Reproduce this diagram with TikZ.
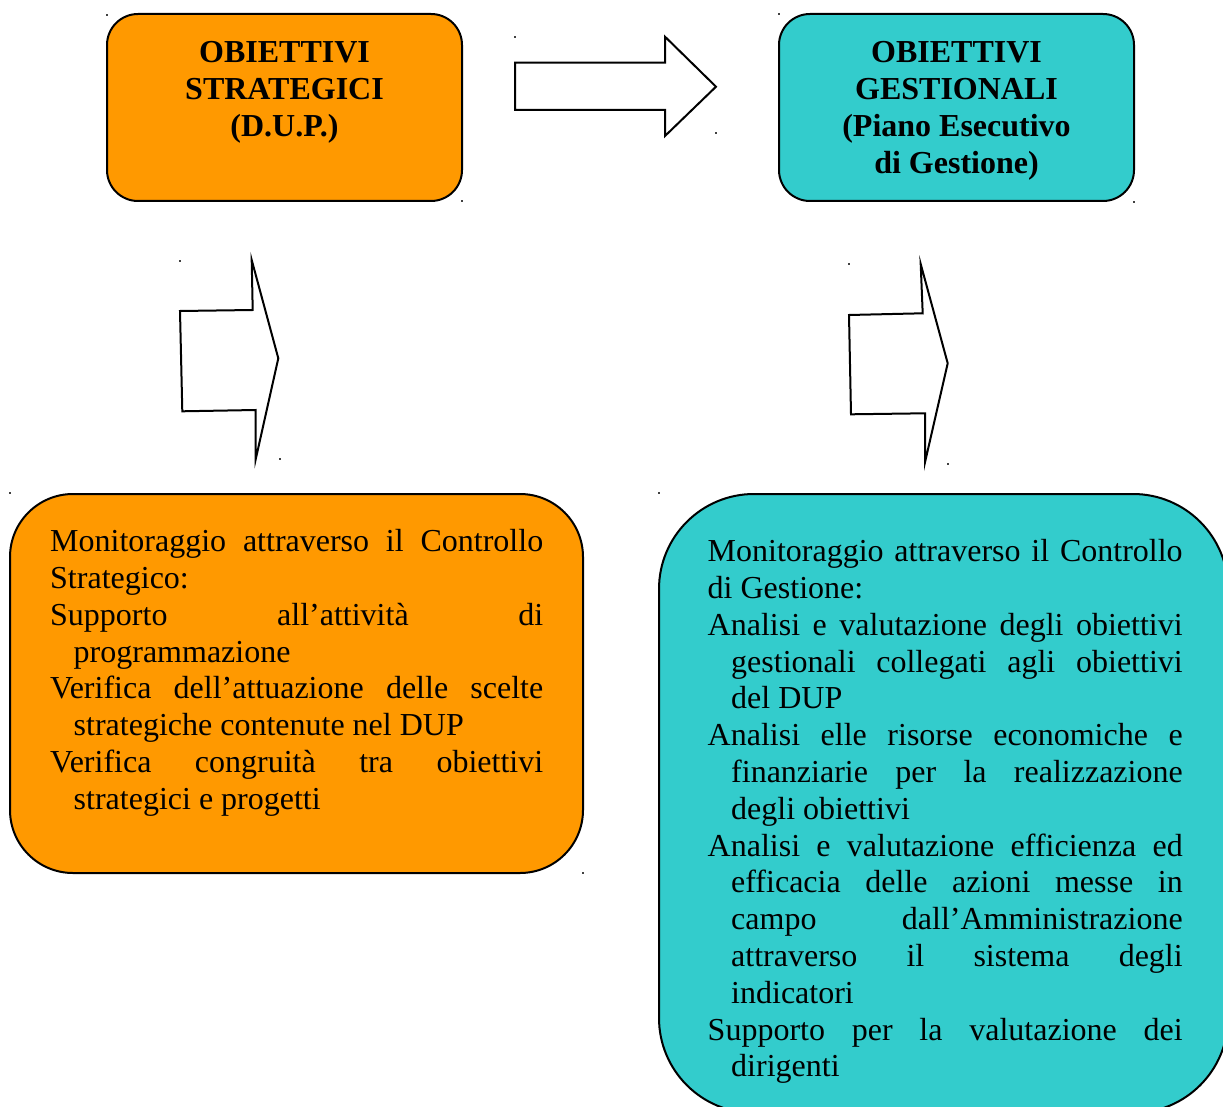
\documentclass[tikz,border=0pt]{standalone}
\usepackage{fontspec}
\setmainfont{Liberation Serif}
\definecolor{orangebox}{HTML}{FF9900}
\definecolor{tealbox}{HTML}{33CCCC}
\newcommand\fullL[1]{\makebox[\linewidth][s]{#1}}
\newcommand\indL[1]{\hspace*{23.5pt}\makebox[\dimexpr\linewidth-23.5pt\relax][s]{#1}}
\newcommand\hangL[1]{\hspace*{23.5pt}#1}
\begin{document}
\begin{tikzpicture}[x=1pt,y=-1pt,
  box/.style={draw=black, line width=2pt, rectangle, inner sep=0pt},
  obox/.style={box, fill=orangebox},
  tbox/.style={box, fill=tealbox},
  blockarrow/.style={draw=black, line width=2pt, fill=white, line join=miter},
  txt/.style={inner sep=0pt, anchor=base west, font=\fontsize{32}{36.8}\selectfont},
  ttl/.style={inner sep=0pt, anchor=base, font=\bfseries\fontsize{32}{36.8}\selectfont},
  tinydot/.style={fill=black!75}
]
\useasboundingbox (0,0) rectangle (1223,1107);
\clip (0,0) rectangle (1223,1107);

% boxes
\node[obox, rounded corners=31pt, minimum width=355pt, minimum height=187pt] (strat) at (284.5,107.5) {};
\node[tbox, rounded corners=31pt, minimum width=355pt, minimum height=187pt] (gest) at (956.5,107.5) {};
\node[obox, rounded corners=63pt, minimum width=573pt, minimum height=379pt] (monstrat) at (296.5,683.5) {};
\node[tbox, rounded corners=95pt, minimum width=569pt, minimum height=619pt] (mongest) at (943.5,803.5) {};

% block arrows
\draw[blockarrow] (515,62.7) -- (665,62.7) -- (665,36.7) -- (716,86.7) -- (665,136) -- (665,110) -- (515,110) -- cycle;
\draw[blockarrow] (180,311) -- (252.7,310) -- (251.7,260) -- (278.3,358.3) -- (255.7,459.3) -- (255.7,410) -- (182.3,411.3) -- cycle;
\draw[blockarrow] (849,315) -- (922.7,313.3) -- (920.7,264) -- (947.7,363.3) -- (925,462.3) -- (925,413.3) -- (851,414.3) -- cycle;

% titles
\node[ttl] (strattitle) at (284.5,63) {\parbox[t]{340pt}{\centering OBIETTIVI\\STRATEGICI\\(D.U.P.)}};
\node[ttl] (gesttitle) at (956.5,63) {\parbox[t]{340pt}{\centering OBIETTIVI\\GESTIONALI\\(Piano Esecutivo\\di Gestione)}};

% body texts
\node[txt] (strattext) at (50,551.7) {\parbox[t]{493pt}{%
\fullL{Monitoraggio attraverso il Controllo}\\
Strategico:\\
\fullL{Supporto all’attività di}\\
\hangL{programmazione}\\
\fullL{Verifica dell’attuazione delle scelte}\\
\hangL{strategiche contenute nel DUP}\\
\fullL{Verifica congruità tra obiettivi}\\
\hangL{strategici e progetti}}};

\node[txt] (gesttext) at (707.5,561.6) {\parbox[t]{475pt}{%
\fullL{Monitoraggio attraverso il Controllo}\\
di Gestione:\\
\fullL{Analisi e valutazione degli obiettivi}\\
\indL{gestionali collegati agli obiettivi}\\
\hangL{del DUP}\\
\fullL{Analisi elle risorse economiche e}\\
\indL{finanziarie per la realizzazione}\\
\hangL{degli obiettivi}\\
\fullL{Analisi e valutazione efficienza ed}\\
\indL{efficacia delle azioni messe in}\\
\indL{campo dall’Amministrazione}\\
\indL{attraverso il sistema degli}\\
\hangL{indicatori}\\
\fullL{Supporto per la valutazione dei}\\
\hangL{dirigenti}}};

% tiny corner marks
\foreach \px/\py in {107/15, 515/37, 716/133, 462/201, 779/14, 1134/202, 180/261, 280/459, 849/264, 948/464, 10/493, 583/873, 659/493}
  \fill[tinydot] (\px-1,\py-1) rectangle ++(2,2);
\end{tikzpicture}
\end{document}
